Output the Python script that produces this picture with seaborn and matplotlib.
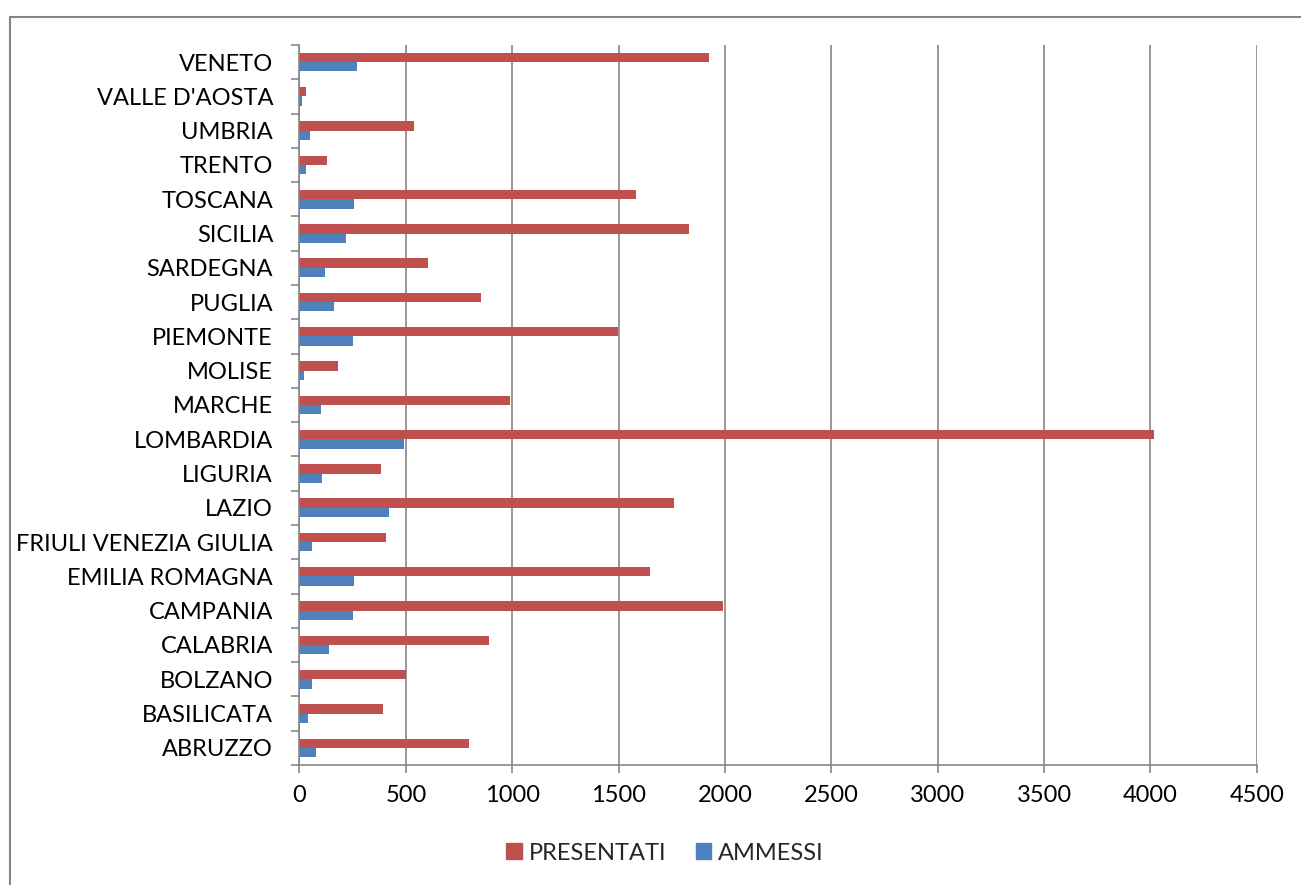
import matplotlib
matplotlib.use("Agg")
import matplotlib.pyplot as plt
from matplotlib.patches import Rectangle
import seaborn as sns
import pandas as pd
import numpy as np

regions = ["VENETO", "VALLE D'AOSTA", "UMBRIA", "TRENTO", "TOSCANA", "SICILIA",
           "SARDEGNA", "PUGLIA", "PIEMONTE", "MOLISE", "MARCHE", "LOMBARDIA",
           "LIGURIA", "LAZIO", "FRIULI VENEZIA GIULIA", "EMILIA ROMAGNA",
           "CAMPANIA", "CALABRIA", "BOLZANO", "BASILICATA", "ABRUZZO"]
presentati = [1926, 31, 539, 131, 1584, 1832, 603, 855, 1495, 183, 988, 4017,
              385, 1762, 406, 1650, 1992, 891, 503, 393, 796]
ammessi = [272, 12, 48, 31, 257, 219, 122, 162, 250, 23, 103, 489,
           106, 423, 60, 258, 252, 137, 60, 40, 79]
series = ["PRESENTATI", "AMMESSI"]
x_ticks = [0, 500, 1000, 1500, 2000, 2500, 3000, 3500, 4000, 4500]

df = pd.DataFrame({
    "regione": regions * 2,
    "valore": presentati + ammessi,
    "serie": [series[0]] * len(regions) + [series[1]] * len(regions),
})

sns.set_theme(style="white")
plt.rcParams["font.family"] = ["Lato", "DejaVu Sans"]

FS = 17
grid_col = "#868686"
palette = {"PRESENTATI": "#C0504D", "AMMESSI": "#4F81BD"}

fig = plt.figure(figsize=(13.01, 8.85), dpi=100)
ax = fig.add_axes([0.2302, 0.1356, 0.966 - 0.2302, 0.9492 - 0.1356])

sns.barplot(data=df, y="regione", x="valore", hue="serie", order=regions,
            hue_order=series, palette=palette, orient="h", width=0.545,
            saturation=1, ax=ax, legend=False, edgecolor="none")

ax.set_xlim(0, 4500)
ax.set_ylim(len(regions) - 0.5, -0.5)
ax.set_xticks(x_ticks)
ax.set_xticklabels([str(v) for v in x_ticks])
ax.set_xlabel("")
ax.set_ylabel("")

# vertical gridlines
ax.grid(axis="x", color=grid_col, linewidth=1.2)
ax.grid(axis="y", visible=False)
ax.set_axisbelow(True)

for side in ["top", "right"]:
    ax.spines[side].set_visible(False)
for side in ["left", "bottom"]:
    ax.spines[side].set_color(grid_col)
    ax.spines[side].set_linewidth(1.2)

# category labels at centres, tick marks on category boundaries
ax.set_yticks(np.arange(-0.5, len(regions), 1.0), minor=True)
ax.tick_params(axis="y", which="major", length=0, pad=19, labelsize=FS,
               labelcolor="black")
ax.tick_params(axis="y", which="minor", length=5.5, width=1.2, color=grid_col,
               left=True)
ax.tick_params(axis="x", which="major", length=5.5, width=1.2, color=grid_col,
               bottom=True, pad=9, labelsize=FS, labelcolor="black")

handles = [Rectangle((0, 0), 1, 1, color=palette[s]) for s in series]
fig.legend(handles, series, loc="center", bbox_to_anchor=(665 / 1301, 1 - 853 / 885),
           ncol=2, frameon=False, fontsize=FS, handlelength=0.65, handleheight=0.65,
           columnspacing=1.25, handletextpad=0.3)

# chart frame
fig.patches.append(Rectangle((9.5 / 1301, -0.05), 1.2, 1 - 16.5 / 885 + 0.05,
                             transform=fig.transFigure, fill=False,
                             edgecolor=grid_col, linewidth=1.5))

fig.savefig("out.png", dpi=100, facecolor="white")
